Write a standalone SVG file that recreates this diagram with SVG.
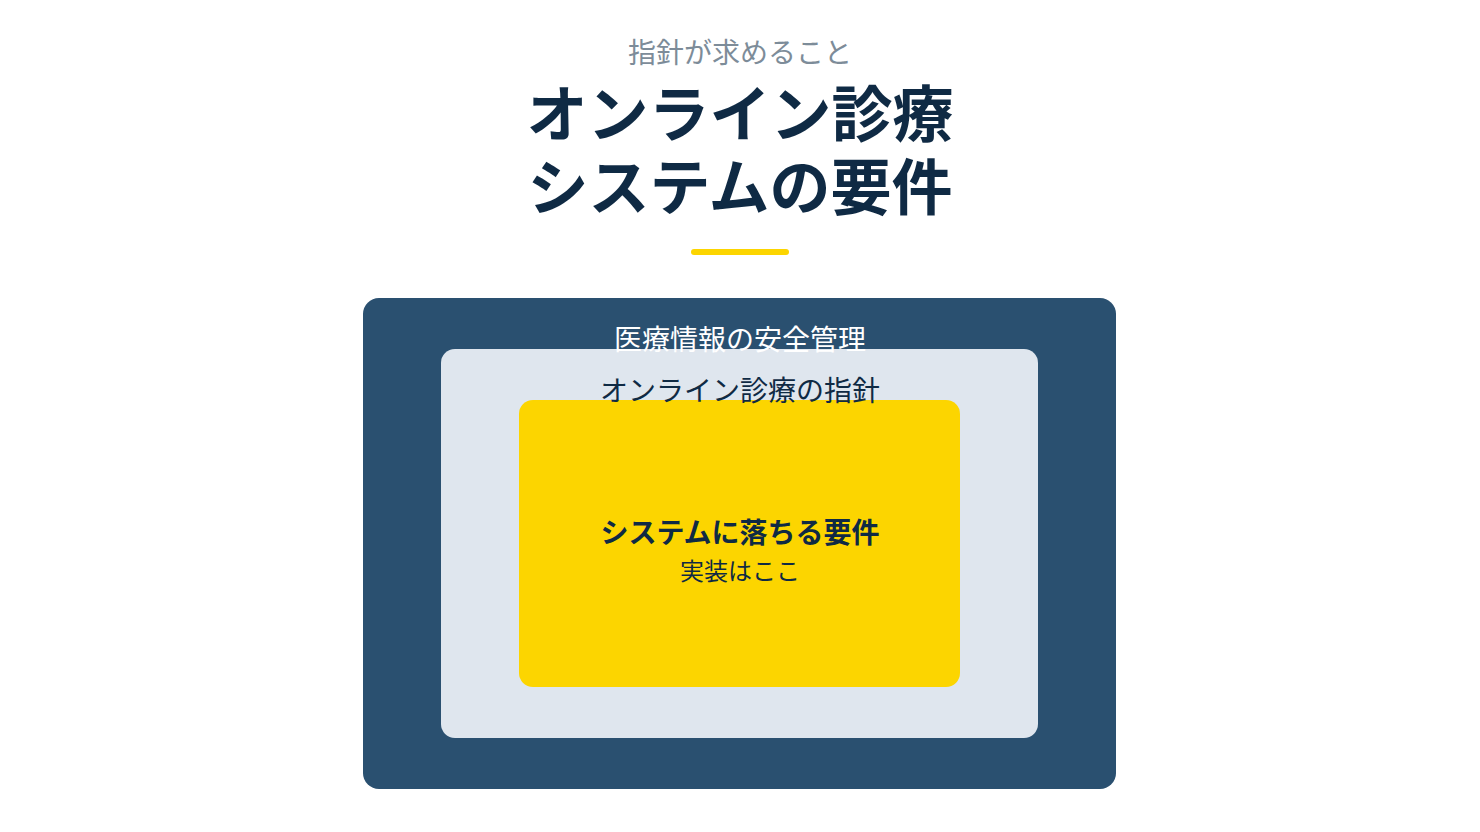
<svg xmlns="http://www.w3.org/2000/svg" width="1480" height="832" viewBox="0 0 1480 832">
<style>
text{font-family:"Noto Sans CJK JP","Noto Sans",sans-serif;text-anchor:middle}
.sub{font-size:28px;fill:#7d8c99}
.title{font-size:61px;font-weight:700;fill:#0f2a44}
.lbl{font-size:28px}
</style>
<rect width="1480" height="832" fill="#ffffff"/>
<g id="header">
<text class="sub" x="740" y="63">指針が求めること</text>
<text class="title" x="740" y="137">オンライン診療</text>
<text class="title" x="740" y="210">システムの要件</text>
<rect x="691" y="249" width="98" height="6" rx="3" fill="#fcd500"/>
</g>
<g id="outer">
<rect x="363" y="298" width="753" height="491" rx="16" fill="#2a5070"/>
<g id="middle">
<rect x="441" y="349" width="597" height="389" rx="14" fill="#dfe6ee"/>
<g id="inner">
<rect x="519" y="400" width="441" height="287" rx="14" fill="#fcd500"/>
<text class="lbl" x="740" y="543" font-size="29" font-weight="700" fill="#0f2a44">システムに落ちる要件</text>
<text x="740" y="580" font-size="24" fill="#0f2a44">実装はここ</text>
</g>
<text class="lbl" x="740" y="401" fill="#0f2a44">オンライン診療の指針</text>
</g>
<text class="lbl" x="740" y="350" fill="#ffffff">医療情報の安全管理</text>
</g>
<g id="connectors"></g>
</svg>
